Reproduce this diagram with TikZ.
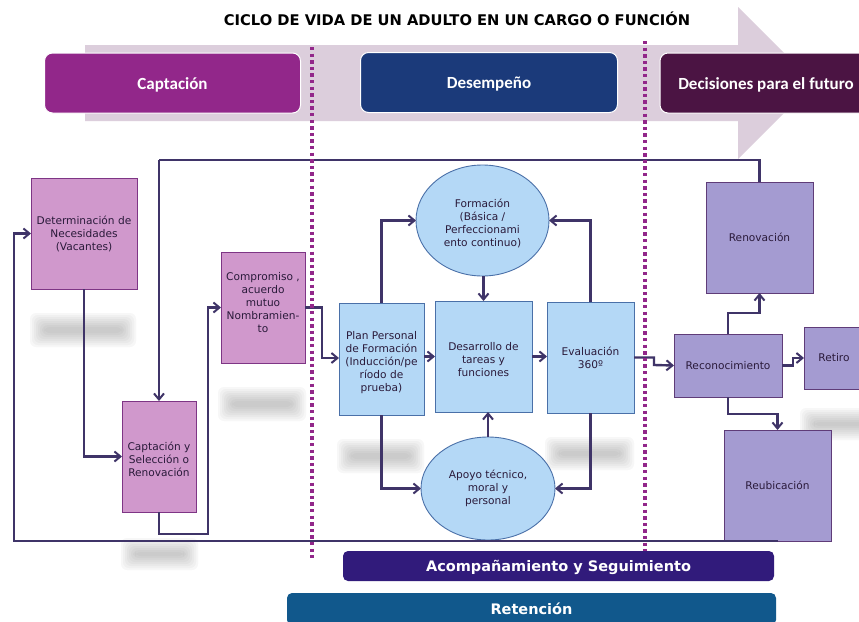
\documentclass[tikz,border=0pt]{standalone}
\usepackage{fontspec}
\setmainfont{DejaVu Sans}
\newfontfamily\barfont{Carlito}
\usetikzlibrary{arrows.meta,shapes.geometric}
\definecolor{arrowbg}{HTML}{DCCEDC}
\definecolor{pinkfill}{HTML}{D098CC}
\definecolor{pinkline}{HTML}{7E3585}
\definecolor{bluefill}{HTML}{B4D8F6}
\definecolor{blueline}{HTML}{4A70A8}
\definecolor{lilacfill}{HTML}{A49BD1}
\definecolor{lilacline}{HTML}{5F3C78}
\definecolor{conn}{HTML}{3F3468}
\definecolor{capt}{HTML}{92278A}
\definecolor{desem}{HTML}{1B3A7A}
\definecolor{decis}{HTML}{4B1443}
\definecolor{acomp}{HTML}{311B7B}
\definecolor{reten}{HTML}{11588C}
\definecolor{textdark}{HTML}{2A1A3A}
\tikzset{
  boxbase/.style={rectangle,inner sep=0pt,outer sep=0pt,align=center,font=\fontsize{10.6}{13}\selectfont,text=textdark,line width=0.9pt},
  pinkbox/.style={boxbase,draw=pinkline,fill=pinkfill},
  bluebox/.style={boxbase,draw=blueline,fill=bluefill},
  lilacbox/.style={boxbase,draw=lilacline,fill=lilacfill},
  blueoval/.style={ellipse,inner sep=0pt,outer sep=0pt,align=center,font=\fontsize{10.6}{13}\selectfont,text=textdark,draw=blueline,fill=bluefill,line width=0.9pt},
  phasebar/.style={rectangle,rounded corners=8pt,draw=white,line width=1pt,text=white,text height=12pt,text depth=0pt,font=\barfont\bfseries\fontsize{17}{18}\selectfont},
  lowerbar/.style={rectangle,rounded corners=5pt,text=white,text height=11pt,text depth=0pt,font=\bfseries\fontsize{14.5}{16}\selectfont},
  link/.style={draw=conn,line width=2.4pt,-{Straight Barb[length=6pt,width=10pt,line width=2pt]}},
  plainlink/.style={draw=conn,line width=2.4pt},
  divider/.style={draw=capt,line width=3.4pt,dash pattern=on 3.4pt off 3.2pt},
  smudge/.style={fill=black!55,fill opacity=0.05,rounded corners=6pt}
}
\newcommand{\smudgeat}[4]{%
  \foreach \g in {0,2,4,6,8,10,12,14}{\fill[smudge] (#1+\g-8,#2+\g-8) rectangle (#3-\g+8,#4-\g+8);}}
\begin{document}
\begin{tikzpicture}[x=1pt,y=-1pt]
\clip (0,0) rectangle (859,621);
\useasboundingbox (0,0) rectangle (859,621);
\fill[white] (0,0) rectangle (859,621);
\node[font=\bfseries\fontsize{14.7}{16}\selectfont,text=black] (title) at (457,19) {CICLO DE VIDA DE UN ADULTO EN UN CARGO O FUNCIÓN};
\fill[arrowbg] (85,45) -- (738,45) -- (738,7) -- (814,83) -- (738,159) -- (738,121) -- (85,121) -- cycle;
\node[phasebar,fill=capt,minimum width=256pt,minimum height=60pt] (captacion) at (172.5,83) {Captación};
\node[phasebar,fill=desem,minimum width=257pt,minimum height=60pt] (desempeno) at (489,82.5) {Desempeño};
\node[phasebar,fill=decis,minimum width=212pt,minimum height=60pt] (decisiones) at (766,83) {Decisiones para el futuro};
% blurred patches
\smudgeat{38}{321}{128}{339}
\smudgeat{226}{395}{298}{413}
\smudgeat{345}{447}{416}{465}
\smudgeat{129}{546}{190}{562}
\smudgeat{553}{445}{626}{462}
\smudgeat{808}{416}{875}{432}
% boxes
\node[pinkbox,minimum width=106pt,minimum height=111pt] (det) at (84,233.5) {Determinación de\\Necesidades\\(Vacantes)};
\node[pinkbox,minimum width=84pt,minimum height=111pt] (comp) at (263,307.5) {Compromiso ,\\acuerdo\\mutuo\\Nombramien-\\to\\[-2.4pt]};
\node[pinkbox,minimum width=74pt,minimum height=111pt] (capsel) at (159,456.5) {\rule{0pt}{15pt}Captación y\\Selección o\\Renovación};
\node[bluebox,minimum width=85pt,minimum height=112pt] (plan) at (381.5,359) {\rule{0pt}{16pt}Plan Personal\\de Formación\\(Inducción/pe\\ríodo de\\prueba)};
\node[bluebox,minimum width=97pt,minimum height=111pt] (des) at (483.5,356.5) {\rule{0pt}{14pt}Desarrollo de\\tareas y\\funciones};
\node[bluebox,minimum width=87pt,minimum height=111pt] (eval) at (590.5,357.5) {Evaluación\\360º};
\node[blueoval,minimum width=133pt,minimum height=111pt] (form) at (482.5,220.5) {\rule{0pt}{14pt}Formación\\(Básica /\\Perfeccionami\\ento continuo)};
\node[blueoval,minimum width=134pt,minimum height=103pt] (apoyo) at (488,488.5) {Apoyo técnico,\\moral y\\personal};
\node[lilacbox,minimum width=107pt,minimum height=111pt] (ren) at (759.5,237.5) {Renovación};
\node[lilacbox,minimum width=108pt,minimum height=63pt] (rec) at (728,365.5) {Reconocimiento};
\node[lilacbox,minimum width=60pt,minimum height=62pt] (ret) at (834,358) {Retiro};
\node[lilacbox,minimum width=107pt,minimum height=111pt] (reub) at (777.5,485.5) {Reubicación};
% free bends
\coordinate (topleft) at (159,160);
\coordinate (botleft) at (14,541);
\coordinate (capturn) at (208,534);
\coordinate (compturn) at (322,358);
\coordinate (evalturn) at (654,365);
\coordinate (recup) at (728,313);
\coordinate (rectail) at (793,358);
\coordinate (recdown) at (728,414);
% connectors
\draw[plainlink] (ren.north) |- (topleft);
\draw[link] (topleft) -- (capsel.north);
\draw[link] (det.south) |- (capsel.west);
\draw[link] (capsel.south) |- (capturn) |- (comp.west);
\draw[link] (reub.south) -- (botleft) |- (det.west);
\draw[link] (comp.east) -| (compturn) -- (plan.west |- compturn);
\draw[link] (plan.north) |- (form.west);
\draw[link] (plan.south) |- (apoyo.west);
\draw[link] (plan.east |- des.east) -- (des.west);
\draw[link] (form.south -| des.north) -- (des.north);
\draw[link] (apoyo.north) -- (apoyo.north |- des.south);
\draw[link] (des.east) -- (des.east -| eval.west);
\draw[link] (eval.north) |- (form.east);
\draw[link] (eval.south) |- (apoyo.east);
\draw[link] (eval.east) -| (evalturn) -- (rec.west);
\draw[link] (rec.north) |- (recup) -| (ren.south);
\draw[link] (rec.east) -| (rectail) -- (ret.west);
\draw[link] (rec.south) |- (recdown) -| (reub.north);
% dotted dividers
\coordinate (d1a) at (312,47); \coordinate (d1b) at (312,558);
\coordinate (d2a) at (645,41); \coordinate (d2b) at (645,551);
\draw[divider] (d1a) -- (d1b);
\draw[divider] (d2a) -- (d2b);
% lower bars
\node[lowerbar,fill=acomp,minimum width=431pt,minimum height=30pt] (acompana) at (558.5,566) {Acompañamiento y Seguimiento};
\node[lowerbar,fill=reten,minimum width=489pt,minimum height=32pt] (retencion) at (531.5,609) {Retención};
\end{tikzpicture}
\end{document}
